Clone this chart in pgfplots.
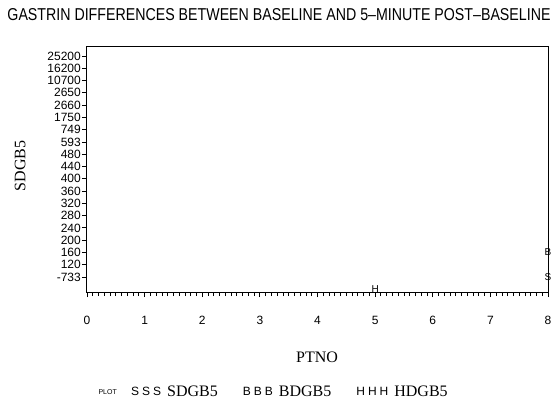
\documentclass[border=0pt]{standalone}
\usepackage{pgfplots}
\pgfplotsset{compat=1.18}
\usepackage{fontspec}
\setmainfont{Liberation Serif}
\setsansfont{Liberation Sans}
\usepackage{graphicx}
\newcommand\mk[1]{{\sffamily\fontsize{10}{10}\selectfont #1}}
\newcommand\legsym[1]{#1\kern3pt#1\kern3pt#1\kern5pt}
\begin{document}
\begin{tikzpicture}[x=1pt,y=1pt]
\useasboundingbox (-87,-115) rectangle (473,292);
\begin{axis}[
  at={(0,0)}, anchor=south west,
  scale only axis, width=461pt, height=245pt,
  xmin=0, xmax=8, ymin=-1.22, ymax=18.73,
  axis line style={line width=1pt},
  tick align=outside, tick pos=left,
  xtick={0,1,...,8},
  xticklabels={0,1,2,3,4,5,6,7,8},
  minor x tick num=9,
  major tick length=5pt, minor tick length=4pt,
  every tick/.style={black, line width=0.8pt},
  ytick={0,1,...,18},
  yticklabels={-733,120,160,200,240,280,320,360,400,440,480,593,749,1750,2660,2650,10700,16200,25200},
  yticklabel style={font=\sffamily\fontsize{12}{12}\selectfont, inner sep=1pt},
  xticklabel style={font=\sffamily\fontsize{12}{12}\selectfont, inner sep=0pt, yshift=-19pt},
  xlabel={PTNO},
  xlabel style={at={(axis description cs:0.499,-0.265)}, anchor=center, font=\fontsize{16}{16}\selectfont},
  ylabel={SDGB5},
  ylabel style={at={(axis description cs:-0.145,0.514)}, anchor=center, font=\fontsize{16}{16}\selectfont},
  title={\resizebox{543pt}{12pt}{GASTRIN DIFFERENCES BETWEEN BASELINE AND 5\textendash MINUTE POST\textendash BASELINE}},
  title style={at={(axis description cs:0.4165,1.106)}, anchor=center, font=\sffamily},
  legend columns=3,
  legend style={at={(axis description cs:0.089,-0.408)}, anchor=west, draw=none, fill=none,
    font=\fontsize{16}{16}\selectfont,
    /tikz/every even column/.append style={column sep=24pt},
    nodes={inner sep=1pt}},
]
\addplot[only marks, mark=text, text mark={\mk{S}},
  legend image code/.code={\node[anchor=west,inner sep=0pt,font=\sffamily\fontsize{12}{12}\selectfont] at (0pt,0pt) {\legsym{S}};}]
  coordinates {(8,0)};
\addlegendentry{SDGB5}
\addplot[only marks, mark=text, text mark={\mk{B}},
  legend image code/.code={\node[anchor=west,inner sep=0pt,font=\sffamily\fontsize{12}{12}\selectfont] at (0pt,0pt) {\legsym{B}};}]
  coordinates {(8,2)};
\addlegendentry{BDGB5}
\addplot[only marks, mark=text, text mark={\mk{H}},
  legend image code/.code={\node[anchor=west,inner sep=0pt,font=\sffamily\fontsize{12}{12}\selectfont] at (0pt,0pt) {\legsym{H}};}]
  coordinates {(5,-0.95)};
\addlegendentry{HDGB5}
\end{axis}
\node[anchor=east, font=\sffamily\fontsize{7}{7}\selectfont, inner sep=0pt] at (30,-100) {PLOT};
\end{tikzpicture}
\end{document}
